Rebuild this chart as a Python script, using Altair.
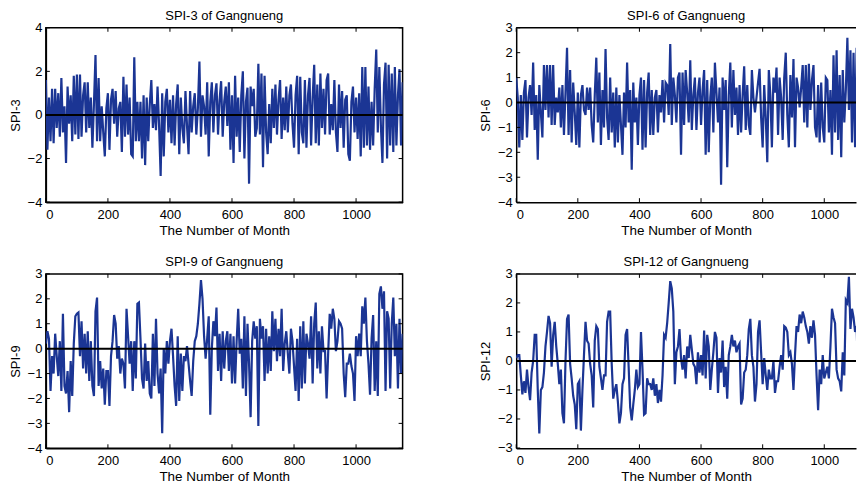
import altair as alt
import pandas as pd

STEP = 5  # months between stored readings

spi3 = [
    1.6, -1.6, 0.8, -1.2, 1.2, -1.3, 1.2, -0.6, 1.0, -1.0,
    1.7, -0.8, 0.4, -2.2, 1.3, -0.4, 0.9, -1.2, 1.8, -0.9,
    1.85, -1.1, 1.85, -1.0, 0.9, 1.5, -0.8, 1.5, -0.6, 0.8,
    -1.5, 0.5, 2.75, -1.2, 1.7, -1.2, 0.4, -0.8, -1.9, 0.3,
    1.0, -1.6, 0.7, 1.2, -0.4, 1.1, -1.0, 0.3, 0.6, -1.7,
    1.75, -1.0, 1.4, -0.9, 0.8, -1.8, -1.9, 2.65, -1.2, 0.6,
    -1.2, 0.6, -2.0, 0.9, -2.3, 0.8, -1.2, 0.5, 1.6, -0.6,
    0.5, -0.7, 1.3, -0.5, -2.8, 1.0, -1.9, 0.6, 1.2, -0.8,
    0.7, -1.3, 0.9, -1.4, 0.5, 1.4, -1.8, 0.8, -0.6, -1.3,
    1.1, -0.5, -1.8, 1.1, -0.8, 0.4, 1.0, -0.9, 0.3, 2.45,
    -1.0, 0.9, 0.4, -0.9, 1.5, -1.9, 0.6, 1.5, -0.8, 0.9,
    1.45, -0.9, 0.7, 1.55, -1.0, 0.6, 1.3, -0.5, 1.5, -1.6,
    0.9, -2.2, 1.8, -1.0, 0.8, -1.7, 0.9, 2.0, -2.0, 0.6,
    1.25, -3.15, 1.3, 0.4, 1.2, -1.0, -0.6, 2.35, -0.9, 1.9,
    -2.4, 1.8, -0.8, -1.8, 0.5, -1.3, 1.2, -0.6, 1.4, -0.9,
    0.7, 1.6, -1.1, 0.8, -0.7, 1.3, -0.8, 0.9, 1.4, -0.4,
    -1.5, 0.9, 1.8, -1.8, 1.75, -0.8, -1.3, 1.6, -1.5, 0.9,
    1.7, -1.4, 0.8, 2.3, -1.3, 1.4, -1.4, 1.9, -0.6, 1.2,
    -0.9, 1.6, 1.9, -0.9, 0.5, -0.7, 1.6, -0.8, -1.7, 1.4,
    -0.6, 1.1, -1.5, 0.7, 0.9, -1.8, -2.1, 0.6, 1.3, -0.8,
    0.8, -1.1, 1.0, -1.9, 2.2, -1.5, 2.2, -1.4, 1.3, -1.6,
    0.6, -1.4, 1.2, 3.0, -0.8, 2.2, -0.5, -2.2, 1.4, 2.4,
    -2.0, 2.3, -1.4, 1.9, -1.7, 2.2, -1.4, 0.9, 2.1, -1.4, 1.5,
]

spi6 = [
    1.0, 0.2, -1.8, 0.3, -1.5, 0.4, 0.9, -1.4, 0.2, 0.7,
    -0.5, 1.6, -1.1, 0.3, -2.3, 0.7, -0.4, -1.4, 1.5, -0.3,
    1.5, -0.6, 1.5, -0.9, 1.5, -0.9, 0.2, -0.4, 0.6, -1.0,
    0.7, -1.3, 0.4, 2.2, -1.3, 1.3, -1.6, 0.8, -0.4, -1.7,
    0.4, -1.8, 0.3, 0.7, -0.3, -0.5, 0.6, -0.3, 0.6, -0.9,
    -1.6, 0.3, 1.8, -0.8, 1.2, -1.7, 0.5, -1.0, 2.15, -0.6,
    -1.5, 1.0, -1.2, 0.4, -1.8, 0.6, -1.6, 0.3, -0.9, -2.1,
    0.4, -1.0, 1.6, -0.8, 0.5, -2.7, 0.8, -0.8, 0.2, -1.7,
    0.3, 1.0, -1.9, 0.9, -1.8, 0.4, 1.2, -1.3, 0.5, -1.3,
    0.2, 0.5, -1.2, 0.3, -0.4, 0.9, -0.8, 0.8, 0.7, -0.5,
    2.35, -0.9, 1.0, 0.3, -0.8, 1.0, 1.2, -2.1, 1.2, -0.9,
    1.3, 0.4, -0.8, 1.7, -1.1, 0.3, 1.0, -1.1, 0.4, 1.0,
    -0.9, 0.5, 1.3, -2.1, 0.9, -2.0, 0.2, 1.0, -1.2, 1.6,
    0.4, -0.8, 0.6, -3.3, 1.0, -0.3, 0.9, -2.6, 0.3, 1.6,
    -1.0, 1.3, -0.5, 0.6, -1.3, 0.7, -1.2, 0.3, 1.45, -1.1,
    0.7, -0.9, -1.3, 1.3, 0.2, -0.4, 0.2, 0.8, 1.35, -0.6,
    -1.8, 0.7, -0.6, -2.4, 1.3, 0.3, -1.8, 1.0, 0.4, 1.4,
    -1.3, 1.0, 0.2, -1.5, 1.0, 2.0, -0.5, -1.8, 1.1, -0.6,
    1.75, -1.8, 1.0, 0.6, -0.2, 0.6, 1.5, -0.8, 1.5, -1.0,
    1.55, -0.3, 0.9, 1.5, -1.0, -1.4, 0.7, -1.6, 0.8, -1.0,
    -1.6, 1.0, 0.9, -1.2, 0.5, -2.1, 1.9, -1.2, 2.1, -1.5,
    1.1, -2.2, 1.3, -0.8, 0.5, 2.6, -0.3, 2.1, -1.6, 2.0,
    -1.8, 2.2, -1.5, 1.8, -1.2, 2.0, -1.0, 1.6, -1.4, 1.2, 0.8,
]

spi9 = [
    0.2, 0.7, 0.4, -1.7, -0.3, -1.0, 0.6, -0.3, -1.1, 0.3,
    -1.7, 1.4, -1.5, -1.8, -0.9, -2.55, -0.5, -1.9, 0.2, 1.3,
    1.4, 1.45, -0.3, 1.1, -0.8, 0.6, -1.0, 0.7, -1.3, 0.3,
    -1.5, -1.9, 1.5, 2.05, -1.5, -0.5, -1.6, -0.8, -2.25, -0.9,
    -0.9, -2.3, -0.3, 0.3, 1.35, 1.0, -0.4, 0.1, -1.0, -0.4,
    -0.6, -1.6, 1.6, 0.5, -0.6, 0.3, -1.7, 0.3, -1.2, 1.8,
    1.85, 0.4, -1.2, -1.6, 0.2, -1.3, -0.5, -1.8, -2.0, 0.6,
    -1.5, 1.2, -1.0, -1.8, -0.8, -3.4, 0.0, -1.0, 0.3, -0.6,
    0.3, 0.8, -0.3, -1.5, -2.3, 0.5, -2.1, -0.2, -1.7, -0.3,
    -0.5, 0.1, -0.6, -1.3, -1.9, -0.5, 0.3, 0.5, 1.0, 1.8,
    2.75, 2.0, 0.5, -0.4, 0.4, 1.3, -2.65, 0.0, 1.1, 0.5,
    1.65, -0.9, 0.6, -1.3, 0.7, -0.8, 0.3, 0.7, -0.9, 0.6,
    -1.4, 0.5, -1.4, 0.3, 1.6, -0.2, 0.4, -1.6, 1.3, -1.9,
    1.0, -0.6, -2.75, 0.3, 1.1, 0.4, 0.9, -3.1, 1.2, 0.4,
    0.9, -1.3, 0.8, -1.0, 0.5, -0.9, 1.5, -0.1, 1.2, -0.5,
    0.8, -0.3, 1.6, -0.9, 0.2, 0.7, -0.2, -1.0, 0.8, 0.3,
    -0.7, -1.7, 0.4, -2.1, 0.9, -1.6, 1.1, -1.4, 0.6, 0.2,
    -0.4, 1.3, -1.4, 1.0, 1.85, -0.8, 0.7, -1.0, 0.9, -0.1,
    -0.1, -2.0, -0.2, 1.4, 0.8, 1.6, 1.2, -0.1, 0.3, 1.1,
    1.0, 0.8, -1.0, -1.95, -0.6, -0.6, -0.2, -0.7, -1.0, -2.1,
    0.5, -0.3, 0.6, -0.3, 1.7, 1.0, 2.05, 0.3, -0.6, -1.85,
    0.4, 1.35, -1.7, 0.3, -1.9, 2.2, 2.5, 1.6, 2.3, -1.7,
    1.5, 1.2, -1.6, 1.0, 2.05, -0.3, 1.0, -1.6, 1.2, -1.0, 0.6,
]

spi12 = [
    0.1, 0.2, 0.2, -0.5, -1.15, -0.7, -1.1, -0.3, -0.9, -1.35,
    -0.4, 0.0, 0.9, 0.9, -1.0, -2.5, -1.0, -0.9, -0.4, 0.5,
    1.0, 1.55, 1.3, -0.2, 0.9, 1.35, 0.5, -0.1, -0.8, -0.3,
    -1.8, -2.15, 0.0, 1.45, 1.6, -0.1, -0.6, -1.2, -1.5, -2.35,
    -0.8, -0.7, -2.4, -1.0, 0.2, 1.35, 0.7, 0.6, -0.1, -0.5,
    -1.6, 0.7, 1.2, 1.1, -0.2, -0.6, -1.0, -0.5, -0.5, 1.35,
    1.7, 1.7, -0.1, -1.3, -1.0, -0.8, -1.4, -2.15, -1.8, -0.8,
    -0.6, 0.9, 1.1, -0.2, -1.6, -2.05, -1.5, -1.0, -0.3, -0.9,
    -0.8, 1.0, -0.3, -1.85, -1.8, -0.6, -0.8, -0.8, -1.0, -0.6,
    -1.2, -0.8, -1.45, -1.0, -1.4, -0.5, 0.9, 0.8, 1.3, 2.0,
    2.75, 2.5, 1.7, -0.8, 0.3, 0.5, 1.1, 0.1, -0.3, 0.2,
    -0.6, 0.5, 0.1, 0.9, 0.4, -0.1, -0.2, -0.8, 0.3, -0.4,
    0.2, -0.5, 1.05, -0.6, 0.9, 0.5, -1.0, -0.3, 0.3, 1.0,
    0.8, -1.1, 0.1, -0.4, 0.7, -0.9, -0.2, -1.3, 0.2, 0.5,
    0.9, 0.5, 0.7, 0.3, 0.5, 0.6, -1.5, -1.3, -0.4, -0.3,
    0.2, 1.1, 1.45, 0.2, -0.2, -1.4, -0.8, 1.0, 1.4, 0.3,
    -0.8, 0.1, -0.5, -1.0, -0.3, -0.6, -0.6, 0.0, -1.1, -0.7,
    -0.7, -0.2, 0.2, -0.3, 1.2, 1.15, 1.0, 0.2, 0.3, -0.1,
    -1.0, 0.2, 1.2, 1.0, 1.6, 1.3, 1.7, 1.5, 1.2, 1.0,
    0.6, 1.2, 0.8, 1.4, 0.9, -0.5, -1.7, -0.3, -0.8, 0.2,
    -0.6, -0.4, -0.2, -0.6, 0.5, 1.8, 1.5, 1.3, -0.3, -0.6,
    -0.7, -1.05, 0.3, -0.5, 2.1, 2.0, 2.9, 1.1, 1.8, 1.5,
    1.0, 1.2, -0.6, 1.5, 1.9, 1.2, 0.8, 1.4, 0.6, 1.0, 0.5,
]

titles = ["SPI-3 of Gangnueng", "SPI-6 of Gangnueng", "SPI-9 of Gangnueng", "SPI-12 of Gangnueng"]
ylabels = ["SPI-3", "SPI-6", "SPI-9", "SPI-12"]
ydomains = [[-4, 4], [-4, 3], [-4, 3], [-3.01, 3]]
yticks = [[-4, -2, 0, 2, 4], [-4, -3, -2, -1, 0, 1, 2, 3], [-4, -3, -2, -1, 0, 1, 2, 3], [-3, -2, -1, 0, 1, 2, 3]]
xticks = [0, 200, 400, 600, 800, 1000]
xtitle = "The Number of Month"

BLUE = "#1b3594"
FONT = "Liberation Sans"
H = 175
TICK = 4


def panel(values, title, ylab, ydom, ytk, right):
    df = pd.DataFrame({"month": [i * STEP for i in range(len(values))], "spi": values})
    xdom = [0, 1103] if right else [0, 1150]
    width = 341 if right else 358
    xax = alt.Axis(values=xticks, format="d", title=xtitle, grid=False, tickSize=0, labelPadding=6,
                   labelOverlap=False, labelBound=False, domainColor="black", domainWidth=1.5,
                   labelFontSize=13, titleFontSize=13.5, labelFont=FONT, titleFont=FONT,
                   titleFontWeight="normal", labelColor="black", titleColor="black", titlePadding=2)
    yax = alt.Axis(values=ytk, format="d", title=ylab, grid=False, tickSize=0, labelPadding=4,
                   labelOverlap=False, labelBound=False, labelFlush=False, domainColor="black",
                   domainWidth=1.5, labelFontSize=13, titleFontSize=13, labelFont=FONT, titleFont=FONT,
                   titleFontWeight="normal", labelColor="black", titleColor="black", titlePadding=5)
    xscale = alt.Scale(domain=xdom, nice=False, zero=False)
    yscale = alt.Scale(domain=ydom, nice=False, zero=False)
    line = alt.Chart(df).mark_line(color=BLUE, strokeWidth=2.2, clip=True).encode(
        x=alt.X("month:Q", scale=xscale, axis=xax),
        y=alt.Y("spi:Q", scale=yscale, axis=yax),
    )
    zero = alt.Chart(pd.DataFrame({"spi": [0]})).mark_rule(color="black", strokeWidth=2).encode(
        y=alt.Y("spi:Q", scale=yscale, axis=yax)
    )
    xt = pd.DataFrame({"month": xticks})
    yt = pd.DataFrame({"spi": ytk})
    tick_bottom = alt.Chart(xt).mark_rule(color="black", strokeWidth=1).encode(
        x=alt.X("month:Q", scale=xscale, axis=xax), y=alt.value(H), y2=alt.value(H - TICK))
    tick_top = alt.Chart(xt).mark_rule(color="black", strokeWidth=1).encode(
        x=alt.X("month:Q", scale=xscale, axis=xax), y=alt.value(0), y2=alt.value(TICK))
    tick_left = alt.Chart(yt).mark_rule(color="black", strokeWidth=1).encode(
        y=alt.Y("spi:Q", scale=yscale, axis=yax), x=alt.value(0), x2=alt.value(TICK))
    layers = [line, zero, tick_bottom, tick_top, tick_left]
    if right:
        top = alt.Chart(pd.DataFrame({"v": [0]})).mark_rule(color="black", strokeWidth=1.5).encode(
            y=alt.value(0)
        )
        layers.append(top)
        view = alt.ViewBackground(stroke=None)
    else:
        tick_right = alt.Chart(yt).mark_rule(color="black", strokeWidth=1).encode(
            y=alt.Y("spi:Q", scale=yscale, axis=yax), x=alt.value(width), x2=alt.value(width - TICK))
        layers.append(tick_right)
        view = alt.ViewBackground(stroke="black", strokeWidth=1.5)
    return alt.layer(*layers).properties(
        width=width, height=H, view=view,
        title=alt.Title(title, fontSize=13, font=FONT, fontWeight="normal", color="black", offset=-1),
    )


series = [spi3, spi6, spi9, spi12]
panels = [panel(series[i], titles[i], ylabels[i], ydomains[i], yticks[i], i % 2 == 1) for i in range(4)]

chart = alt.vconcat(
    alt.hconcat(panels[0], panels[1], spacing=75),
    alt.hconcat(panels[2], panels[3], spacing=75),
    spacing=17,
).properties(padding={"left": 0, "top": 0, "right": 0, "bottom": 0}).configure_view(
    stroke=None
).configure_axis(labelOverlap=False)

chart.save("out.html", embed_options={"renderer": "svg", "actions": False})
